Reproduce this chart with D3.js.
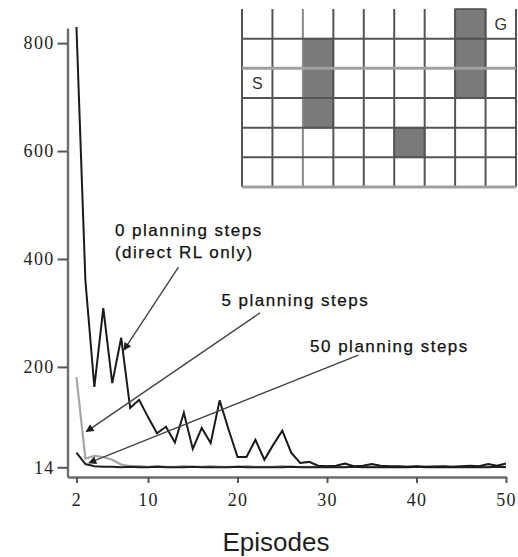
<!DOCTYPE html>
<html>
<head>
<meta charset="utf-8">
<script src="https://cdn.jsdelivr.net/npm/d3@7"></script>
<style>
  body { margin: 0; background: #fff; }
  svg { display: block; }
</style>
</head>
<body>
<svg width="518" height="557"></svg>
<script>
// episodes shown on the x axis (episode 1 is left out, as in the figure)
let episodes = [2, 3, 4, 5, 6, 7, 8, 9, 10, 11, 12, 13, 14, 15, 16, 17, 18, 19, 20, 21,
    22, 23, 24, 25, 26, 27, 28, 29, 30, 31, 32, 33, 34, 35, 36, 37, 38, 39, 40, 41,
    42, 43, 44, 45, 46, 47, 48, 49, 50];

// steps per episode
let steps0 = [830, 360, 163, 309, 170, 254, 124, 139, 107, 77, 89, 60, 115, 48, 87, 59, 138, 84, 33, 33,
    65, 28, 56, 82, 41, 22, 24, 17, 16, 17, 21, 16, 17, 20, 17, 16, 16, 15, 16, 15,
    15, 16, 15, 16, 17, 16, 20, 17, 21];
let steps5 = [181, 30, 35, 33, 28, 19, 16, 16, 15, 16, 15, 15, 16, 15, 15, 16, 15, 15, 15, 16,
    15, 15, 15, 16, 15, 15, 15, 15, 16, 15, 15, 15, 15, 15, 16, 15, 15, 15, 15, 15,
    16, 15, 15, 15, 15, 15, 15, 16, 15];
let steps50 = [41, 20, 16, 15, 15, 14, 15, 14, 14, 15, 14, 14, 14, 15, 14, 14, 14, 14, 15, 14,
    14, 14, 14, 14, 15, 14, 14, 14, 14, 14, 14, 15, 14, 14, 14, 14, 14, 14, 15, 14,
    14, 14, 14, 14, 14, 14, 14, 15, 14];

let xTicks = [2, 10, 20, 30, 40, 50];
let yTicks = [14, 200, 400, 600, 800];

// annotations: label lines, where the label sits and where its arrow goes (episode, steps)
let labels = [
    { lines: ["0 planning steps", "(direct RL only)"], at: [6.3, 442], from: [13.4, 385], to: [7.3, 231] },
    { lines: ["5 planning steps"], at: [18.2, 312], from: [22.5, 300], to: [3.1, 80] },
    { lines: ["50 planning steps"], at: [28.1, 227], from: [33.5, 222], to: [3.4, 22] }
];

// the maze inset: 9 x 6 grid, walls as [col, row]
let mazeCols = [0, 1, 2, 3, 4, 5, 6, 7, 8];
let mazeRows = [0, 1, 2, 3, 4, 5];
let walls = [[2, 1], [2, 2], [2, 3], [7, 0], [7, 1], [7, 2], [5, 4]];
let mazeStart = [0, 2], mazeGoal = [8, 0];

let svg = d3.select("svg");

let xScale = d3.scaleLinear().domain([1, 50]).range([67.5, 506]);
let yScale = d3.scaleLinear().domain([-4, 828]).range([477, 28]);

let defs = svg.append("defs");
defs.append("marker")
    .attr("id", "head")
    .attr("viewBox", "0 0 10 10")
    .attr("refX", 9).attr("refY", 5)
    .attr("markerWidth", 11).attr("markerHeight", 8)
    .attr("markerUnits", "userSpaceOnUse")
    .attr("orient", "auto")
    .append("path")
    .attr("d", "M0,0L10,5L0,10z")
    .attr("fill", "#1e1e1e");

// maze
let colScale = d3.scaleBand().domain(mazeCols).range([242, 516]);
let rowScale = d3.scaleBand().domain(mazeRows).range([9, 187]);
let maze = svg.append("g");

maze.selectAll(".wall")
    .data(walls)
    .enter().append("rect")
    .attr("class", "wall")
    .attr("x", function (d) { return colScale(d[0]); })
    .attr("y", function (d) { return rowScale(d[1]); })
    .attr("width", colScale.bandwidth())
    .attr("height", rowScale.bandwidth())
    .attr("fill", "#7a7a7a")
    .attr("stroke", "#4a4a4a")
    .attr("stroke-width", 1.5);

// vertical grid lines
maze.selectAll(".vline")
    .data(mazeCols.concat([9]))
    .enter().append("line")
    .attr("x1", function (d) { return 242 + d * colScale.bandwidth(); })
    .attr("x2", function (d) { return 242 + d * colScale.bandwidth(); })
    .attr("y1", 9).attr("y2", 187)
    .attr("stroke", function (d) { return d == 2 ? "#8a8a8a" : "#555"; })
    .attr("stroke-width", 2);

// horizontal grid lines (no line along the top)
maze.selectAll(".hline")
    .data([1, 2, 3, 4, 5, 6])
    .enter().append("line")
    .attr("x1", 242).attr("x2", 516)
    .attr("y1", function (d) { return 9 + d * rowScale.bandwidth(); })
    .attr("y2", function (d) { return 9 + d * rowScale.bandwidth(); })
    .attr("stroke", function (d) { return d == 2 || d == 6 ? "#a0a0a0" : "#555"; })
    .attr("stroke-width", function (d) { return d == 2 || d == 6 ? 3 : 2; });

maze.selectAll(".mark")
    .data([[mazeStart, "S"], [mazeGoal, "G"]])
    .enter().append("text")
    .attr("x", function (d) { return colScale(d[0][0]) + colScale.bandwidth() / 2; })
    .attr("y", function (d) { return rowScale(d[0][1]) + rowScale.bandwidth() / 2; })
    .attr("dy", "0.36em")
    .attr("text-anchor", "middle")
    .attr("font-family", "Liberation Sans")
    .attr("font-size", 16)
    .attr("fill", "#333")
    .text(function (d) { return d[1]; });

// axes
let yAxis = svg.append("g")
    .attr("transform", "translate(67.5,0)")
    .call(d3.axisLeft(yScale).tickValues(yTicks).tickSize(10).tickPadding(3).tickSizeOuter(0));

let xAxis = svg.append("g")
    .attr("transform", "translate(0,477)")
    .call(d3.axisBottom(xScale).tickValues(xTicks).tickSize(6).tickPadding(10).tickSizeOuter(0));

[yAxis, xAxis].forEach(function (a) {
    a.select(".domain").attr("stroke", "#6e6e6e").attr("stroke-width", 2.4);
    a.selectAll(".tick line").attr("stroke", "#555").attr("stroke-width", 2);
    a.selectAll(".tick text")
        .attr("font-family", "Liberation Serif")
        .attr("font-size", 18)
        .attr("letter-spacing", 1.3)
        .attr("fill", "#1e1e1e");
});

svg.append("text")
    .attr("x", 276).attr("y", 551)
    .attr("text-anchor", "middle")
    .attr("font-family", "Liberation Sans")
    .attr("font-size", 26)
    .attr("fill", "#1e1e1e")
    .text("Episodes");

// curves
let line = d3.line()
    .x(function (d) { return xScale(d[0]); })
    .y(function (d) { return yScale(d[1]); });

let series = [
    { values: steps5, color: "#a6a6a6", width: 2.2 },
    { values: steps50, color: "#1e1e1e", width: 2 },
    { values: steps0, color: "#1a1a1a", width: 2 }
];

svg.selectAll(".curve")
    .data(series)
    .enter().append("path")
    .attr("class", "curve")
    .attr("fill", "none")
    .attr("stroke", function (d) { return d.color; })
    .attr("stroke-width", function (d) { return d.width; })
    .attr("stroke-linejoin", "miter")
    .attr("d", function (d) { return line(d.values.map(function (v, i) { return [episodes[i], v]; })); });

// annotation arrows and labels
svg.selectAll(".arrow")
    .data(labels)
    .enter().append("line")
    .attr("class", "arrow")
    .attr("x1", function (d) { return xScale(d.from[0]); })
    .attr("y1", function (d) { return yScale(d.from[1]); })
    .attr("x2", function (d) { return xScale(d.to[0]); })
    .attr("y2", function (d) { return yScale(d.to[1]); })
    .attr("stroke", "#444")
    .attr("stroke-width", 1.4)
    .attr("marker-end", "url(#head)");

labels.forEach(function (d) {
    let t = svg.append("text")
        .attr("font-family", "Liberation Sans")
        .attr("font-size", 17)
        .attr("letter-spacing", 1.5)
        .attr("fill", "#111")
        .attr("stroke", "#111")
        .attr("stroke-width", 0.25);
    d.lines.forEach(function (s, i) {
        t.append("tspan")
            .attr("x", xScale(d.at[0]))
            .attr("y", yScale(d.at[1]) + i * 22)
            .text(s);
    });
});
</script>
</body>
</html>
